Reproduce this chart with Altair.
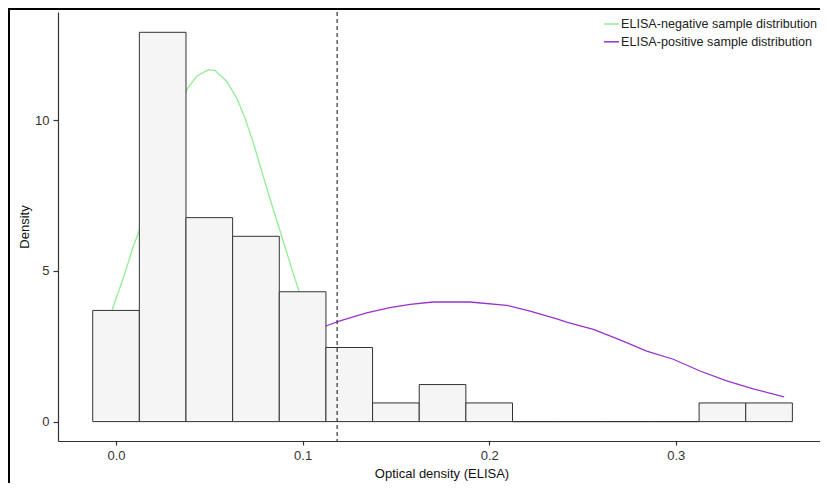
import altair as alt
import pandas as pd

# Histogram (density) of optical densities
bin_start = [-0.0125, 0.0125, 0.0375, 0.0625, 0.0875, 0.1125, 0.1375, 0.1625,
             0.1875, 0.2125, 0.2375, 0.2625, 0.2875, 0.3125, 0.3375]
bin_end = [0.0125, 0.0375, 0.0625, 0.0875, 0.1125, 0.1375, 0.1625, 0.1875,
           0.2125, 0.2375, 0.2625, 0.2875, 0.3125, 0.3375, 0.3625]
density = [3.69, 12.92, 6.77, 6.15, 4.31, 2.46, 0.62, 1.23,
           0.62, 0.0, 0.0, 0.0, 0.0, 0.62, 0.62]

# ELISA-negative sample distribution curve
neg_x = [-0.008, -0.002, 0.0039, 0.0093, 0.0123, 0.020, 0.030, 0.0382, 0.0432,
         0.0495, 0.0531, 0.0593, 0.0647, 0.0691, 0.0736, 0.0789, 0.0843,
         0.0888, 0.0932, 0.0977, 0.102]
neg_y = [3.0, 3.72, 4.77, 5.82, 6.32, 8.0, 10.0, 11.04, 11.46,
         11.68, 11.65, 11.29, 10.74, 10.08, 9.25, 8.14, 7.04,
         6.15, 5.27, 4.39, 3.6]

# ELISA-positive sample distribution curve
pos_x = [0.105, 0.1132, 0.120, 0.1343, 0.1468, 0.1576, 0.170, 0.1897, 0.2094,
         0.2219, 0.2362, 0.2415, 0.2558, 0.2701, 0.2844, 0.2987, 0.313,
         0.3273, 0.3415, 0.3581]
pos_y = [3.0, 3.19, 3.34, 3.61, 3.78, 3.89, 3.97, 3.97, 3.86,
         3.67, 3.41, 3.30, 3.06, 2.71, 2.34, 2.07, 1.68,
         1.35, 1.09, 0.82]

cutoff = [0.1185]

neg_label = "ELISA-negative sample distribution"
pos_label = "ELISA-positive sample distribution"

x_ticks = [0.0, 0.1, 0.2, 0.3]
y_ticks = [0, 5, 10]

FONT = "Liberation Sans"
W, H = 762, 429

bars_df = pd.DataFrame({"x": bin_start, "x2": bin_end, "y": density})
curves_df = pd.concat([
    pd.DataFrame({"x": neg_x, "y": neg_y, "series": neg_label}),
    pd.DataFrame({"x": pos_x, "y": pos_y, "series": pos_label}),
])
cut_df = pd.DataFrame({"x": cutoff})

xscale = alt.Scale(domain=[-0.0311, 0.3773], nice=False, zero=False)
yscale = alt.Scale(domain=[-0.643, 13.594], nice=False, zero=False)

xaxis = alt.Axis(values=x_ticks, format=".1f", title="Optical density (ELISA)",
                 tickSize=4, labelPadding=4, titleY=32, titleBaseline="middle",
                 titleX=383.5)
yaxis = alt.Axis(values=y_ticks, format="d", title="Density",
                 tickSize=5, labelPadding=4, titleX=-34, titleY=H / 2,
                 titleAngle=270, titleAlign="center", titleBaseline="middle")

curves = alt.Chart(curves_df).mark_line(strokeWidth=1.3, clip=True).encode(
    x=alt.X("x:Q", scale=xscale, axis=xaxis),
    y=alt.Y("y:Q", scale=yscale, axis=yaxis),
    color=alt.Color("series:N",
                    scale=alt.Scale(domain=[neg_label, pos_label],
                                    range=["#90EE90", "#9932CC"]),
                    legend=alt.Legend(title=None, orient="none", legendX=545,
                                      legendY=3.5, symbolType="stroke",
                                      symbolSize=225, symbolStrokeWidth=1.5,
                                      labelOffset=1, rowPadding=1.8, padding=0,
                                      labelFontSize=12.6, labelFont=FONT,
                                      labelColor="#222222", labelLimit=400)),
)

bars = alt.Chart(bars_df).mark_rect(fill="#F5F5F5", stroke="#333333",
                                    strokeWidth=1).encode(
    x=alt.X("x:Q", scale=xscale),
    x2="x2:Q",
    y=alt.Y("y:Q", scale=yscale),
    y2=alt.datum(0),
)

cut = alt.Chart(cut_df).mark_rule(color="#333333", strokeWidth=1.2,
                                  strokeDash=[4, 3]).encode(
    x=alt.X("x:Q", scale=xscale),
)

frame_data = alt.Data(values=[{"a": 1}])
frame_left = alt.Chart(frame_data).mark_rule(color="black", strokeWidth=2,
                                             clip=False).encode(
    x=alt.value(-49), y=alt.value(-4), y2=alt.value(H + 42))
frame_top = alt.Chart(frame_data).mark_rule(color="black", strokeWidth=2,
                                            clip=False).encode(
    x=alt.value(-50), x2=alt.value(W), y=alt.value(-3))

chart = alt.layer(curves, bars, cut, frame_left, frame_top).properties(
    width=W, height=H,
    autosize=alt.AutoSizeParams(type="none"),
    padding={"left": 50, "top": 4, "right": 0, "bottom": 42},
).configure_view(stroke=None).configure_axis(
    grid=False, domainColor="#333333", tickColor="#333333",
    labelColor="#333333", labelFont=FONT, labelFontSize=13,
    titleFont=FONT, titleFontSize=13, titleFontWeight="normal",
    titleColor="#111111", domainWidth=1.2, tickWidth=1.2,
)

chart.save("out.html", embed_options={"renderer": "svg", "actions": False})
